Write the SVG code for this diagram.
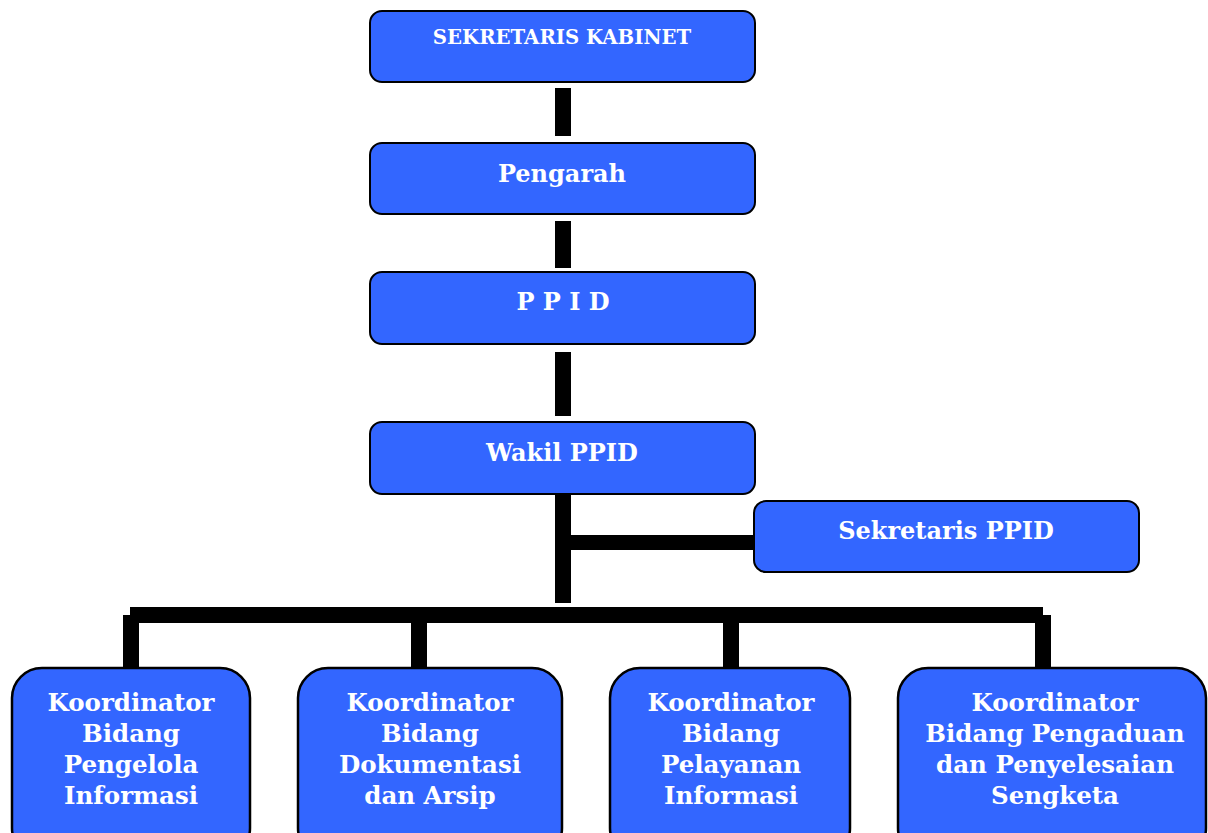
<svg xmlns="http://www.w3.org/2000/svg" width="1208" height="833" viewBox="0 0 1208 833">
<style>
.box{fill:#3366FF;stroke:#000;stroke-width:2}
.bb{stroke-width:2.5}
.t{font-family:"DejaVu Serif","Liberation Serif",serif;font-weight:bold;fill:#fff;text-anchor:middle}
.m{font-size:24px}
.s{font-size:19.7px}
.b{font-size:24.5px}
.c{fill:#000}
</style>
<rect width="1208" height="833" fill="#fff"/>
<g id="connectors">
<rect class="c" x="555" y="88" width="16" height="48"/>
<rect class="c" x="555" y="221" width="16" height="47"/>
<rect class="c" x="555" y="352" width="16" height="64"/>
<rect class="c" x="555" y="494" width="16" height="109"/>
<rect class="c" x="571" y="535" width="184" height="15"/>
<rect class="c" x="130" y="607" width="913" height="16"/>
<rect class="c" x="123" y="615" width="16" height="54"/>
<rect class="c" x="411" y="615" width="16" height="58"/>
<rect class="c" x="723" y="615" width="16" height="54"/>
<rect class="c" x="1035" y="615" width="16" height="54"/>
</g>
<g id="sekretaris-kabinet">
<rect class="box" x="370" y="11" width="385" height="71" rx="12"/>
<text class="t s" x="562" y="44">SEKRETARIS KABINET</text>
</g>
<g id="pengarah">
<rect class="box" x="370" y="143" width="385" height="71" rx="12"/>
<text class="t m" x="562" y="182">Pengarah</text>
</g>
<g id="ppid">
<rect class="box" x="370" y="272" width="385" height="72" rx="12"/>
<text class="t m" x="563" y="310">P P I D</text>
</g>
<g id="wakil-ppid">
<rect class="box" x="370" y="422" width="385" height="72" rx="12"/>
<text class="t m" x="562" y="461">Wakil PPID</text>
</g>
<g id="sekretaris-ppid">
<rect class="box" x="754" y="501" width="385" height="71" rx="12"/>
<text class="t m" x="946" y="539">Sekretaris PPID</text>
</g>
<g id="koordinator-pengelola">
<rect class="box bb" x="12" y="668" width="238" height="190" rx="30"/>
<text class="t b" x="131" y="711">Koordinator</text>
<text class="t b" x="131" y="742">Bidang</text>
<text class="t b" x="131" y="773">Pengelola</text>
<text class="t b" x="131" y="804">Informasi</text>
</g>
<g id="koordinator-dokumentasi">
<rect class="box bb" x="298" y="668" width="264" height="190" rx="30"/>
<text class="t b" x="430" y="711">Koordinator</text>
<text class="t b" x="430" y="742">Bidang</text>
<text class="t b" x="430" y="773">Dokumentasi</text>
<text class="t b" x="430" y="804">dan Arsip</text>
</g>
<g id="koordinator-pelayanan">
<rect class="box bb" x="610" y="668" width="240" height="190" rx="30"/>
<text class="t b" x="731" y="711">Koordinator</text>
<text class="t b" x="731" y="742">Bidang</text>
<text class="t b" x="731" y="773">Pelayanan</text>
<text class="t b" x="731" y="804">Informasi</text>
</g>
<g id="koordinator-pengaduan">
<rect class="box bb" x="898" y="668" width="308" height="190" rx="30"/>
<text class="t b" x="1055" y="711">Koordinator</text>
<text class="t b" x="1055" y="742">Bidang Pengaduan</text>
<text class="t b" x="1055" y="773">dan Penyelesaian</text>
<text class="t b" x="1055" y="804">Sengketa</text>
</g>
</svg>
